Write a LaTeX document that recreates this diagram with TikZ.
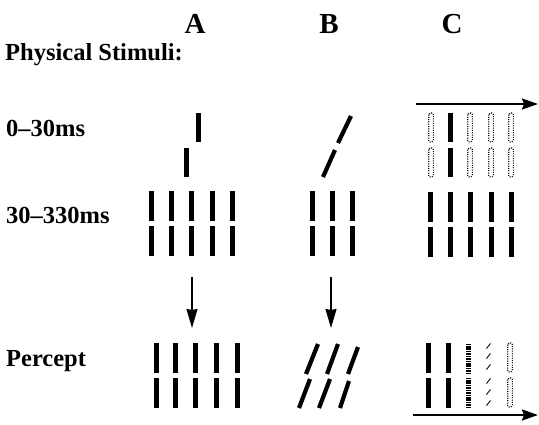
\documentclass[tikz,border=0pt]{standalone}
\usepackage{fontspec}
\setmainfont{Liberation Serif}
\usetikzlibrary{arrows.meta}
\begin{document}
\begin{tikzpicture}[x=1pt,y=-1pt,
  lbl/.style={font=\bfseries\fontsize{24.5}{26}\selectfont, anchor=west, inner sep=0pt},
  head/.style={font=\bfseries\fontsize{29}{30}\selectfont, inner sep=0pt},
  bar/.style={line width=5pt},
  slash/.style={line width=4.2pt},
  ghost/.style={line width=1.1pt, dash pattern=on 1pt off 1.3pt, rounded corners=1.5pt},
  hatch/.style={line width=5pt, dash pattern=on 1.1pt off 0.6pt},
  tick/.style={line width=0.9pt},
  flow/.style={line width=1.6pt, -{Stealth[length=19pt,width=11pt,inset=1pt]}},
  timeline/.style={line width=2pt, -{Stealth[length=16pt,width=11pt,inset=2pt]}}]
\useasboundingbox (0,0) rectangle (539,424);

% column headings and row labels
\node[head] (hA) at (195,24) {A};
\node[head] (hB) at (329,24) {B};
\node[head] (hC) at (452,24) {C};
\node[lbl] (lphys) at (5,55) {Physical Stimuli:};
\node[lbl] (l0) at (6,128) {0--30ms};
\node[lbl] (l30) at (6,215) {30--330ms};
\node[lbl] (lperc) at (6,361) {Percept};

% ---- column A ----
\draw[bar] (198,113) -- (198,142);
\draw[bar] (186,148) -- (186,177);
\foreach \x in {151,171,191,212,232} {
  \draw[bar] (\x,191) -- (\x,221);
  \draw[bar] (\x,226) -- (\x,256);
}
\coordinate (aTop) at (192,277);
\coordinate (aBot) at (192,328);
\draw[flow] (aTop) -- (aBot);
\foreach \x in {156,175,195,216,237} {
  \draw[bar] (\x,343) -- (\x,373);
  \draw[bar] (\x,378) -- (\x,408);
}

% ---- column B ----
\draw[slash] (351,116) -- (338,143);
\draw[slash] (335,150) -- (323,177);
\foreach \x in {312,332,352} {
  \draw[bar] (\x,191) -- (\x,221);
  \draw[bar] (\x,226) -- (\x,256);
}
\coordinate (bTop) at (331,277);
\coordinate (bBot) at (331,328);
\draw[flow] (bTop) -- (bBot);
\draw[slash] (318,344) -- (306,374);
\draw[slash] (338,344) -- (327,374);
\draw[slash] (358,347) -- (348,374);
\draw[slash] (310,379) -- (299,408);
\draw[slash] (330,379) -- (319,408);
\draw[slash] (349,381) -- (340,408);

% ---- column C ----
\coordinate (tl1) at (416,104);
\coordinate (tl2) at (538,104);
\draw[timeline] (tl1) -- (tl2);
\foreach \x in {431,470,491,511} {
  \draw[ghost] (\x-2.3,113) rectangle (\x+2.3,142);
  \draw[ghost] (\x-2.3,148) rectangle (\x+2.3,177);
}
\draw[bar] (450,113) -- (450,142);
\draw[bar] (450,148) -- (450,177);
\foreach \x in {430,450,470,491,511} {
  \draw[bar] (\x,192) -- (\x,222);
  \draw[bar] (\x,227) -- (\x,257);
}
% percept of column C
\foreach \x in {428,448} {
  \draw[bar] (\x,343) -- (\x,373);
  \draw[bar] (\x,378) -- (\x,408);
}
\draw[hatch] (468,344) -- (468,373);
\draw[hatch] (468,378) -- (468,407);
\foreach \y in {346,356,367,381,392,403}
  \draw[tick] (486.5,\y+2.5) -- (490.5,\y-2.5);
\draw[ghost] (507.7,343) rectangle (512.3,372);
\draw[ghost] (507.7,378) rectangle (512.3,407);
\coordinate (bl1) at (413,415);
\coordinate (bl2) at (538,415);
\draw[timeline] (bl1) -- (bl2);
\end{tikzpicture}
\end{document}
